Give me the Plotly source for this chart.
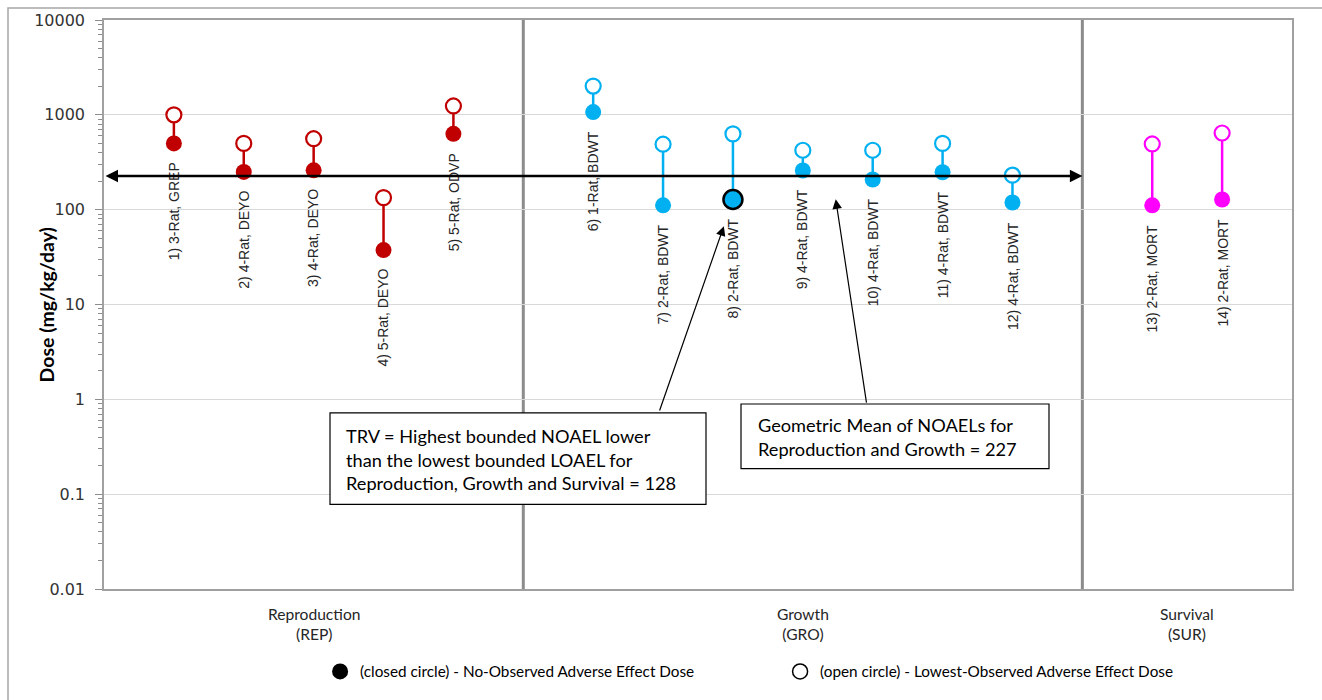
import math
import plotly.graph_objects as go

# ---------------- data ----------------
labels = ["1) 3-Rat, GREP", "2) 4-Rat, DEYO", "3) 4-Rat, DEYO", "4) 5-Rat, DEYO",
          "5) 5-Rat, ODVP", "6) 1-Rat, BDWT", "7) 2-Rat, BDWT", "8) 2-Rat, BDWT",
          "9) 4-Rat, BDWT", "10) 4-Rat, BDWT", "11) 4-Rat, BDWT", "12) 4-Rat, BDWT",
          "13) 2-Rat, MORT", "14) 2-Rat, MORT"]
slots = [0, 1, 2, 3, 4, 6, 7, 8, 9, 10, 11, 12, 14, 15]
groups = ["REP"] * 5 + ["GRO"] * 7 + ["SUR"] * 2
noael = [500, 250, 260, 37.5, 630, 1070, 111, 128, 259, 208, 248, 119, 111, 128]
loael = [1000, 500, 560, 134, 1240, 2010, 490, 630, 423, 423, 500, 231, 493, 643]

group_names = ["REP", "GRO", "SUR"]
group_titles = ["Reproduction<br>(REP)", "Growth<br>(GRO)", "Survival<br>(SUR)"]
group_centers = [2, 9, 14.5]
group_colors = {"REP": "#C00000", "GRO": "#00B0F0", "SUR": "#FF00FF"}
dividers = [5, 13]

trv = 128
geo_mean = 227

tick_vals = [0.01, 0.1, 1, 10, 100, 1000, 10000]
tick_text = ["0.01", "0.1", "1", "10", "100", "1000", "10000"]

# ---------------- figure ----------------
fig = go.Figure()

for g in group_names:
    idx = [i for i, gg in enumerate(groups) if gg == g]
    sx, sy = [], []
    for i in idx:
        sx += [slots[i], slots[i], None]
        sy += [noael[i], loael[i], None]
    col = group_colors[g]
    fig.add_trace(go.Scatter(x=sx, y=sy, mode="lines", line=dict(color=col, width=2.5),
                             showlegend=False, hoverinfo="skip"))
    fig.add_trace(go.Scatter(x=[slots[i] for i in idx], y=[loael[i] for i in idx], mode="markers",
                             marker=dict(symbol="circle", size=15, color="white", opacity=1,
                                         line=dict(color=col, width=2.2)),
                             showlegend=False))
    is_trv = [noael[i] == trv and g != "SUR" for i in idx]
    fig.add_trace(go.Scatter(x=[slots[i] for i in idx], y=[noael[i] for i in idx], mode="markers",
                             marker=dict(symbol="circle", opacity=1,
                                         size=[19 if t else 16 for t in is_trv], color=col,
                                         line=dict(color="black",
                                                   width=[2.5 if t else 0 for t in is_trv])),
                             showlegend=False))

# legend entries
fig.add_trace(go.Scatter(x=[None], y=[None], mode="markers",
                         name="(closed circle) - No-Observed Adverse Effect Dose",
                         marker=dict(symbol="circle", size=16, color="black"),
                         legend="legend"))
fig.add_trace(go.Scatter(x=[None], y=[None], mode="markers",
                         name="(open circle) - Lowest-Observed Adverse Effect Dose",
                         marker=dict(symbol="circle", size=15, color="white",
                                     line=dict(color="black", width=1.5)),
                         legend="legend2"))

ann = []
# data labels
for i, lab in enumerate(labels):
    ann.append(dict(x=slots[i], y=math.log10(noael[i]), xref="x", yref="y", text=lab,
                    textangle=-90, showarrow=False, yanchor="top", xanchor="center",
                    yshift=-17, font=dict(family="Liberation Sans", size=14, color="#262626")))

# group titles
for t, c in zip(group_titles, group_centers):
    ann.append(dict(x=c, y=-0.0612, xref="x", yref="paper", text=t, showarrow=False,
                    yanchor="middle", xanchor="center",
                    font=dict(family="Lato", size=15.6, color="#262626")))

# y axis title
ann.append(dict(x=-0.048, y=0.5, xref="paper", yref="paper", text="<b>Dose (mg/kg/day)</b>",
                textangle=-90, showarrow=False, xanchor="center", yanchor="middle",
                font=dict(family="Lato", size=19.5, color="black")))

# geometric mean double arrow
gy = math.log10(geo_mean)
ann.append(dict(x=13, y=gy, ax=-1, ay=gy, xref="x", yref="y", axref="x", ayref="y",
                text="", showarrow=True, arrowhead=2, arrowside="end+start",
                arrowwidth=2.5, arrowsize=1, arrowcolor="black", standoff=0, startstandoff=0))

# callout arrows
ann.append(dict(x=7.87, y=1.826, ax=6.943, ay=-0.134, xref="x", yref="y", axref="x", ayref="y",
                text="", showarrow=True, arrowhead=2, arrowwidth=1.2, arrowsize=1.6,
                arrowcolor="black", standoff=0))
ann.append(dict(x=9.471, y=2.109, ax=9.914, ay=-0.05, xref="x", yref="y", axref="x", ayref="y",
                text="", showarrow=True, arrowhead=2, arrowwidth=1.2, arrowsize=1.6,
                arrowcolor="black", standoff=0))

# text box contents
box_font = dict(family="Lato", size=18.2, color="black")
ann.append(dict(x=0.2029, y=0.2273, xref="paper", yref="paper", xanchor="left", yanchor="middle",
                text="TRV = Highest bounded NOAEL lower<br>than the lowest bounded LOAEL for<br>"
                     f"Reproduction, Growth and Survival = {trv}",
                showarrow=False, align="left", borderpad=0, font=box_font))
ann.append(dict(x=0.5497, y=0.2675, xref="paper", yref="paper", xanchor="left", yanchor="middle",
                text=f"Geometric Mean of NOAELs for<br>Reproduction and Growth = {geo_mean}",
                showarrow=False, align="left", borderpad=0, font=box_font))

shapes = []
for d in dividers:
    shapes.append(dict(type="line", x0=d, x1=d, y0=0, y1=1, xref="x", yref="paper",
                       line=dict(color="#8c8c8c", width=3), layer="between"))
# text box frames
shapes.append(dict(type="rect", x0=0.19024, x1=0.50673, y0=0.14860, y1=0.30944,
                   xref="paper", yref="paper", fillcolor="white",
                   line=dict(color="black", width=1.2), layer="above"))
shapes.append(dict(type="rect", x0=0.53620, x1=0.79545, y0=0.21154, y1=0.32517,
                   xref="paper", yref="paper", fillcolor="white",
                   line=dict(color="black", width=1.2), layer="above"))
# outer chart frame
shapes.append(dict(type="rect", x0=-0.0808, x1=1.05, y0=-0.4, y1=1.021, xref="paper",
                   yref="paper", line=dict(color="#a6a6a6", width=1.5), layer="below"))

fig.update_layout(
    width=1322, height=700,
    margin=dict(l=104, r=30, t=20, b=108),
    paper_bgcolor="white", plot_bgcolor="white",
    annotations=ann, shapes=shapes,
    xaxis=dict(range=[-1, 16], showgrid=False, zeroline=False, showticklabels=False,
               ticks="", showline=True, linecolor="#a0a0a0", linewidth=1.5, mirror=True),
    yaxis=dict(type="log", range=[-2, 4], tickvals=tick_vals, ticktext=tick_text,
               ticks="outside", ticklen=7, tickcolor="#8c8c8c", tickwidth=1,
               ticklabelstandoff=7,
               showgrid=True, gridcolor="#d9d9d9", gridwidth=1,
               showline=True, linecolor="#a0a0a0", linewidth=1.5, mirror=True,
               minor=dict(ticks="outside", ticklen=4, tickcolor="#8c8c8c", dtick="D1",
                          showgrid=False),
               tickfont=dict(family="DejaVu Sans", size=16, color="#333333")),
    legend=dict(x=0.1819, y=-0.145, xanchor="left", yanchor="middle", orientation="h",
                font=dict(family="Lato", size=15.3, color="black"), bgcolor="rgba(0,0,0,0)"),
    legend2=dict(x=0.5691, y=-0.145, xanchor="left", yanchor="middle", orientation="h",
                 font=dict(family="Lato", size=15.3, color="black"), bgcolor="rgba(0,0,0,0)"),
    showlegend=True,
)

fig.write_html("out.html")
